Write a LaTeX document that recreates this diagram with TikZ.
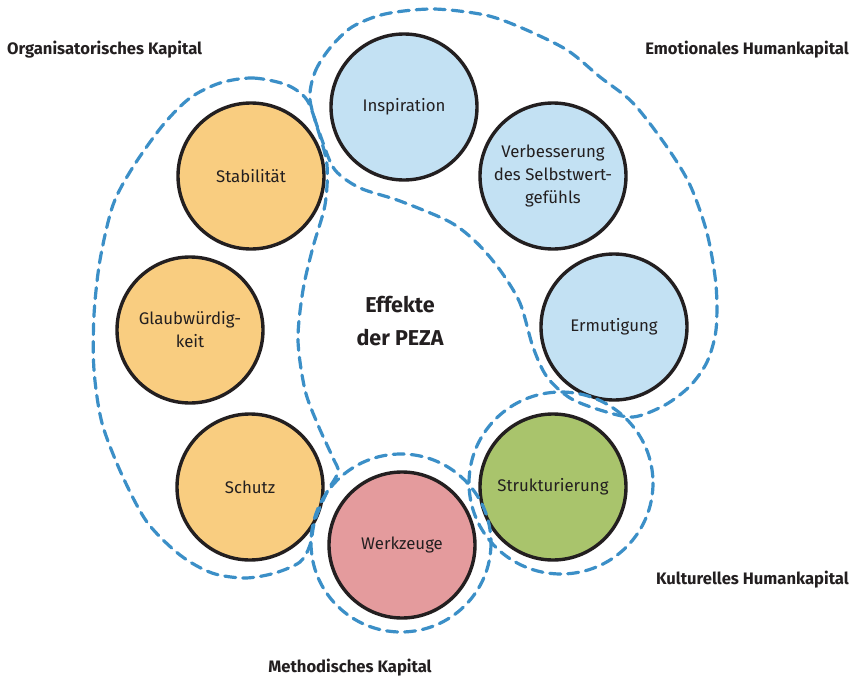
\documentclass[tikz,border=0pt]{standalone}
\usepackage{fontspec}
\setmainfont{Fira Sans}
\usetikzlibrary{backgrounds}
\definecolor{cblue}{HTML}{C3E1F3}
\definecolor{corange}{HTML}{F9CD80}
\definecolor{cgreen}{HTML}{A9C46C}
\definecolor{cred}{HTML}{E49B9D}
\definecolor{dashblue}{HTML}{3B8FC7}
\definecolor{ink}{HTML}{231F20}
\tikzset{
  circ/.style={circle, draw=ink, line width=3.4pt, minimum size=146pt, inner sep=0pt,
    align=center, text=ink, font=\fontsize{16.8}{23}\selectfont},
  conn/.style={draw=ink, line width=2.8pt},
  grp/.style={draw=dashblue, line width=3.2pt, dash pattern=on 11pt off 7pt, line cap=round},
  grptitle/.style={text=ink, font=\bfseries\fontsize{16.6}{19}\selectfont, inner sep=0pt},
  center/.style={text=ink, font=\bfseries\fontsize{21.5}{33}\selectfont, align=center}
}
\begin{document}
\begin{tikzpicture}[x=1pt,y=-1pt]
\useasboundingbox (0,0) rectangle (852,680);
\fill[white] (0,0) rectangle (852,680);
% circles
\node[circ, fill=cblue] (insp) at (404,107) {Inspiration};
\node[circ, fill=cblue] (verb) at (553,176) {Verbesserung\\des Selbstwert-\\gefühls};
\node[circ, fill=cblue] (ermu) at (614,327) {Ermutigung};
\node[circ, fill=cgreen] (stru) at (553,487) {Strukturierung};
\node[circ, fill=cred] (werk) at (402,545) {Werkzeuge};
\node[circ, fill=corange] (schu) at (250,487) {Schutz};
\node[circ, fill=corange] (glau) at (190,330) {Glaubwürdig-\\keit};
\node[circ, fill=corange] (stab) at (251,176) {Stabilität};
% connectors
\begin{scope}[on background layer]
\draw[conn] (insp.center) -- (verb.center);
\draw[conn] (verb.center) -- (ermu.center);
\draw[conn] (ermu.center) -- (stru.center);
\draw[conn] (stru.center) -- (werk.center);
\draw[conn] (werk.center) -- (schu.center);
\draw[conn] (schu.center) -- (glau.center);
\draw[conn] (glau.center) -- (stab.center);
\draw[conn] (stab.center) -- (insp.center);
\end{scope}
% centre text
\node[center] (eff) at (400,321) {Effekte\\der PEZA};
% group boundaries
\draw[grp] plot[smooth cycle] coordinates {
 (310,100) (315,72) (330,48) (352,27) (385,14) (433,9) (485,15) (522,28)
 (567,50) (600,77) (633,103) (667,147) (690,185) (707,233) (716,285) (716,330)
 (707,362) (690,386) (665,405) (633,417) (600,410) (570,398) (547,377)
 (533,347) (520,303) (500,270) (477,243) (450,222) (400,201) (360,188)
 (335,170) (322,140)};
\draw[grp] plot[smooth cycle] coordinates {
 (220,83) (253,78) (287,85) (307,100) (318,130) (327,165) (325,205) (313,247)
 (303,290) (298,340) (305,390) (318,425) (333,458) (338,472) (327,492)
 (315,520) (310,545) (300,562) (275,573) (245,578) (212,573) (180,555)
 (147,522) (122,475) (102,423) (94,370) (94,315) (100,260) (113,205)
 (133,167) (163,125) (190,98)};
\draw[grp] (401,543) ellipse [x radius=90, y radius=89];
\draw[grp] (561,483) ellipse [x radius=92, y radius=91];
% titles
\node[grptitle, anchor=west] (t1) at (7,50) {Organisatorisches Kapital};
\node[grptitle, anchor=east] (t2) at (849,50) {Emotionales Humankapital};
\node[grptitle, anchor=east] (t3) at (849,580) {Kulturelles Humankapital};
\node[grptitle] (t4) at (350,668) {Methodisches Kapital};
\end{tikzpicture}
\end{document}
